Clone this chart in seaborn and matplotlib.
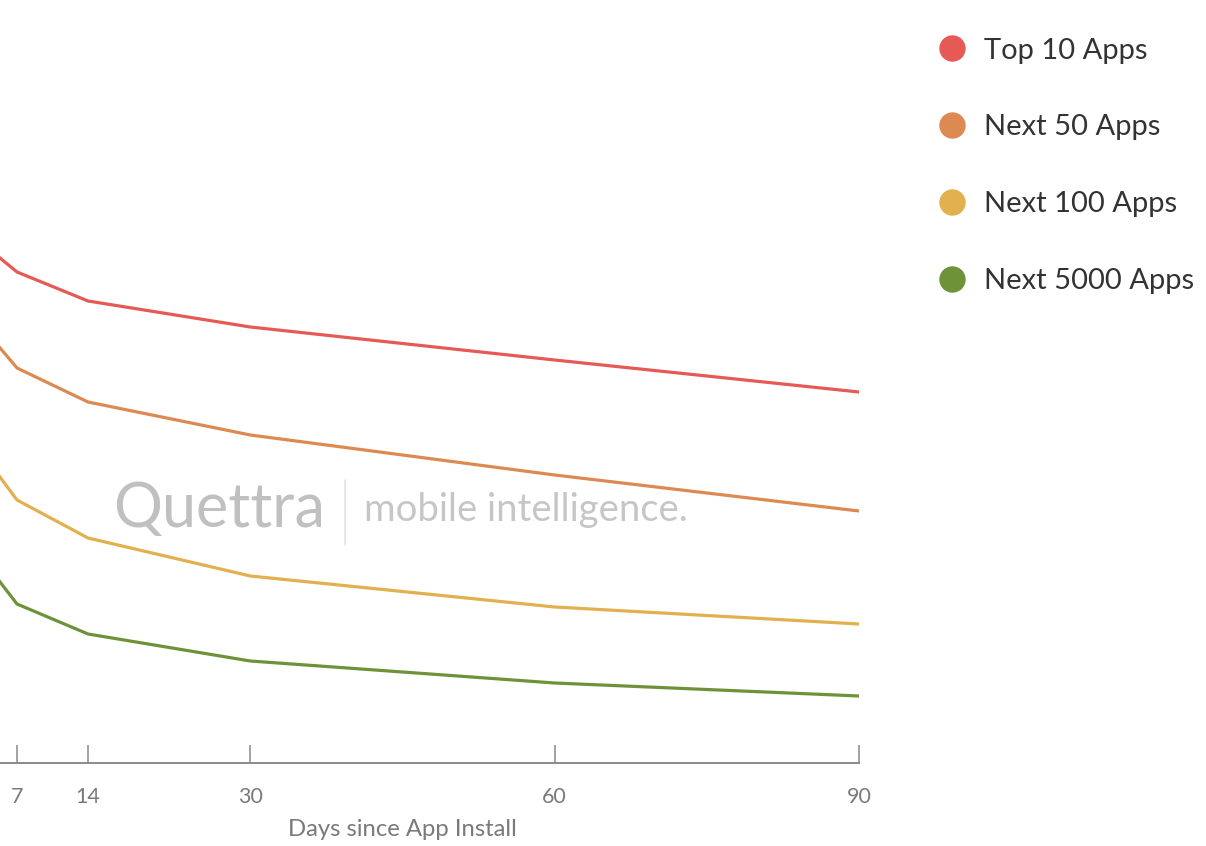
import matplotlib
matplotlib.use("Agg")
import matplotlib.pyplot as plt
from matplotlib.lines import Line2D
import seaborn as sns
import pandas as pd

# Retention (%) by days since install, per app tier
days = [1, 7, 14, 30, 60, 90]
top_10 = [54.1, 49.1, 46.2, 43.6, 40.3, 37.1]
next_50 = [46.7, 39.5, 36.1, 32.8, 28.8, 25.2]
next_100 = [34.5, 26.3, 22.5, 18.7, 15.6, 13.9]
next_5000 = [23.8, 15.9, 12.9, 10.2, 8.0, 6.7]

series_names = ["Top 10 Apps", "Next 50 Apps", "Next 100 Apps", "Next 5000 Apps"]
series_values = [top_10, next_50, next_100, next_5000]
colors = ["#e65a56", "#dd8a52", "#e3b04f", "#6e9238"]
tick_days = [7, 14, 30, 60, 90]

rows = []
for name, vals in zip(series_names, series_values):
    for d, v in zip(days, vals):
        rows.append({"day": d, "retention": v, "tier": name})
df = pd.DataFrame(rows)

sns.set_theme(style="white")
plt.rcParams["font.family"] = ["Lato", "DejaVu Sans"]

W, H = 1206, 846
fig = plt.figure(figsize=(W / 100, H / 100), dpi=100)
# axis runs from day 0 (just past the left edge) to day 90
ax = fig.add_axes([-54 / W, (H - 763) / H, 913 / W, 763 / H])

sns.lineplot(data=df, x="day", y="retention", hue="tier",
             palette=dict(zip(series_names, colors)), linewidth=2.3,
             legend=False, ax=ax)

ax.set_xlim(0, 90)
ax.set_ylim(0, 76.3)
ax.set_facecolor("none")
for side in ["left", "right", "top"]:
    ax.spines[side].set_visible(False)
ax.spines["bottom"].set_color("#8a8a8a")
ax.spines["bottom"].set_linewidth(1.4)
ax.set_yticks([])
ax.set_ylabel("")
ax.set_xticks(tick_days)
ax.set_xticklabels([str(t) for t in tick_days])
ax.tick_params(axis="x", direction="in", length=13, width=1.1,
               color="#8a8a8a", labelcolor="#7a7a7a", labelsize=15.5, pad=17,
               bottom=True)
ax.set_xlabel("Days since App Install", fontsize=17.2, color="#7a7a7a", labelpad=9)

# watermark
fig.text(113 / W, 1 - 510 / H, "Quettra", fontsize=44, color="#c0c0c0",
         fontweight="normal", va="center", ha="left")
fig.add_artist(Line2D([345 / W, 345 / W], [1 - 480 / H, 1 - 545 / H],
                      color="#e4e4e4", linewidth=1.2))
fig.text(364 / W, 1 - 510 / H, "mobile intelligence.", fontsize=27.5,
         color="#c6c6c6", fontweight="normal", va="center", ha="left")

handles = [Line2D([0], [0], marker="o", linestyle="", markersize=18,
                  markerfacecolor=c, markeredgecolor=c) for c in colors]
leg = fig.legend(handles, series_names, loc="upper left",
                 bbox_to_anchor=(926 / W, 1 - 26 / H), frameon=False,
                 fontsize=21, labelspacing=1.74, handletextpad=0.6,
                 handlelength=1.0, borderaxespad=0)
for t in leg.get_texts():
    t.set_color("#333333")

fig.savefig("out.png", dpi=100)
